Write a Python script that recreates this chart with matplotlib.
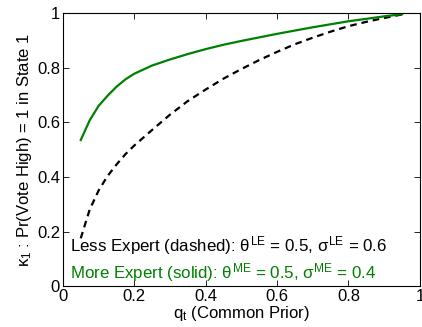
import matplotlib
matplotlib.use("Agg")
import matplotlib.pyplot as plt

plt.rcParams['font.family'] = ['Liberation Sans', 'DejaVu Sans']
plt.rcParams['mathtext.fontset'] = 'custom'
plt.rcParams['mathtext.rm'] = 'Liberation Sans'
plt.rcParams['mathtext.it'] = 'Liberation Sans'

# values
q_more = [0.05, 0.075, 0.1, 0.125, 0.15, 0.175, 0.2, 0.25, 0.3, 0.35, 0.4, 0.45, 0.5,
          0.55, 0.6, 0.65, 0.7, 0.75, 0.8, 0.85, 0.9, 0.95]
k_more = [0.535, 0.607, 0.66, 0.697, 0.73, 0.757, 0.778, 0.808, 0.83, 0.85, 0.868, 0.884, 0.898,
          0.911, 0.924, 0.936, 0.948, 0.959, 0.97, 0.979, 0.988, 0.996]

q_less = [0.05, 0.075, 0.1, 0.125, 0.15, 0.175, 0.2, 0.25, 0.3, 0.35, 0.4, 0.45, 0.5,
          0.55, 0.6, 0.65, 0.7, 0.75, 0.8, 0.85, 0.9, 0.95]
k_less = [0.175, 0.28, 0.35, 0.403, 0.445, 0.483, 0.515, 0.572, 0.628, 0.678, 0.72, 0.76, 0.795,
          0.828, 0.858, 0.886, 0.91, 0.932, 0.952, 0.968, 0.982, 0.995]

ticks = [0, 0.2, 0.4, 0.6, 0.8, 1]
tick_labels = ['0', '0.2', '0.4', '0.6', '0.8', '1']

green = '#008000'

fig = plt.figure(figsize=(4.22, 3.27), dpi=100)
ax = fig.add_axes([0.149, 0.125, 0.846, 0.835])

ax.plot(q_less, k_less, color='black', lw=1.6, dashes=(3, 2.2))
ax.plot(q_more, k_more, color=green, lw=1.6)

ax.set_xlim(0, 1)
ax.set_ylim(0, 1)
ax.set_xticks(ticks)
ax.set_xticklabels(tick_labels)
ax.set_yticks(ticks)
ax.set_yticklabels(tick_labels)
ax.tick_params(direction='in', top=True, right=True, length=4, width=0.6, labelsize=12, pad=2)
for s in ax.spines.values():
    s.set_linewidth(0.8)

ax.set_xlabel(r'q$_{\rm t}$ (Common Prior)', fontsize=12, labelpad=0)
ax.set_ylabel(r'$\kappa_1$ : Pr(Vote High) = 1 in State 1', fontsize=12, labelpad=2)

ax.text(0.02, 0.15, r'Less Expert (dashed): $\theta^{\rm LE}$ = 0.5, $\sigma^{\rm LE}$ = 0.6',
        fontsize=12.2, color='black', va='center', ha='left')
ax.text(0.02, 0.05, r'More Expert (solid): $\theta^{\rm ME}$ = 0.5, $\sigma^{\rm ME}$ = 0.4',
        fontsize=12.2, color=green, va='center', ha='left')

fig.savefig('out.png', dpi=100)
